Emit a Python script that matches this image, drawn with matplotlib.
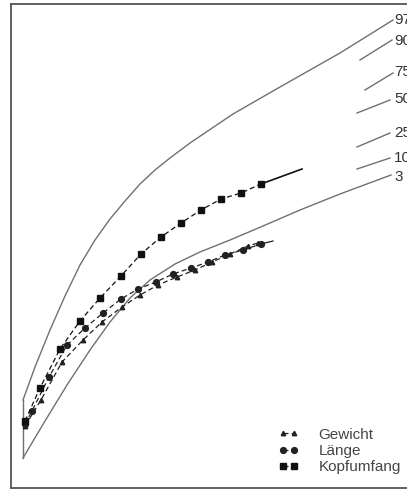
import numpy as np
import matplotlib.pyplot as plt

p97_x = [23, 35, 50, 65, 80, 95, 110, 125, 140, 155, 170, 190, 233, 280, 340, 393]
p97_y = [400, 367, 330, 296, 265, 240, 219, 201, 184, 170, 158, 143, 114, 87, 53, 20]
p3_x = [23, 45, 67, 90, 110, 130, 150, 175, 200, 230, 263, 300, 340, 391]
p3_y = [458, 421, 385, 350, 322, 298, 280, 264, 252, 240, 226, 210, 194, 175]

# kurze Stuecke der inneren Perzentilen am rechten Rand
seg_labels = ['90', '75', '50', '25', '10']
seg_x0 = [360, 365, 357, 357, 357]
seg_y0 = [60, 90, 113, 147, 169]
seg_x1 = [392, 393, 390, 390, 390]
seg_y1 = [40, 73, 100, 133, 158]

pct_labels = ['97', '90', '75', '50', '25', '10', '3']
pct_label_y = [20, 41, 72, 99, 133, 158, 177]

# Messwerte
kopf_x = [25, 40, 60, 80, 100, 121, 141, 161, 181, 201, 221, 241, 261]
kopf_y = [421, 388, 349, 321, 298, 276, 254, 237, 223, 210, 199, 193, 184]
kopf_end_x = [261, 302]
kopf_end_y = [184, 169]

laenge_x = [25, 32, 49, 67, 85, 103, 121, 138, 156, 173, 191, 208, 225, 243, 261]
laenge_y = [424, 411, 377, 345, 328, 313, 299, 289, 282, 274, 268, 262, 255, 250, 244]
laenge_end_x = [261, 273]
laenge_end_y = [244, 241]

gew_x = [25, 41, 62, 83, 102, 122, 140, 158, 177, 195, 212, 230, 248, 258]
gew_y = [426, 400, 362, 340, 322, 307, 295, 285, 277, 270, 262, 254, 246, 243]

fig = plt.figure(figsize=(4.07, 4.95), dpi=100)
ax = fig.add_axes([11 / 407, 7 / 495, 420 / 407, 484 / 495])
ax.set_xlim(11, 431)
ax.set_ylim(488, 4)

grey = '#707070'
ax.plot(p97_x, p97_y, color=grey, lw=1.0)
ax.plot(p3_x, p3_y, color=grey, lw=1.0)
ax.plot([p97_x[0], p3_x[0]], [p97_y[0], p3_y[0]], color=grey, lw=1.0)
for i in range(len(seg_labels)):
    ax.plot([seg_x0[i], seg_x1[i]], [seg_y0[i], seg_y1[i]], color=grey, lw=1.0)
for lab, y in zip(pct_labels, pct_label_y):
    ax.text(394, y, lab, fontsize=11, color='#333333', va='center', ha='left',
            family=['Liberation Sans Narrow', 'Liberation Sans'], clip_on=False)

dash = (0, (4, 2.5))
ax.plot(gew_x, gew_y, color='#222222', lw=0.9, ls=dash, marker='^', ms=3.2,
        label='Gewicht')
ax.plot(laenge_x, laenge_y, color='#222222', lw=0.9, ls=dash, marker='o', ms=4.2,
        label='Länge')
ax.plot(laenge_end_x, laenge_end_y, color='#222222', lw=0.9)
ax.plot(kopf_x, kopf_y, color='#111111', lw=0.9, ls=dash, marker='s', ms=4.6,
        label='Kopfumfang')
ax.plot(kopf_end_x, kopf_end_y, color='#111111', lw=1.2)

leg = ax.legend(loc='lower left', bbox_to_anchor=(254 / 420, 0.0),
                bbox_transform=ax.transAxes, frameon=False, numpoints=2,
                handlelength=1.3, handletextpad=1.3, labelspacing=0.15,
                prop={'family': 'Liberation Sans', 'size': 11})
for t in leg.get_texts():
    t.set_color('#444444')

for s in ['left', 'top', 'bottom']:
    ax.spines[s].set_color('#555555')
    ax.spines[s].set_linewidth(1.3)
ax.spines['right'].set_visible(False)
ax.set_xticks([])
ax.set_yticks([])

fig.savefig('out.png', dpi=100)
